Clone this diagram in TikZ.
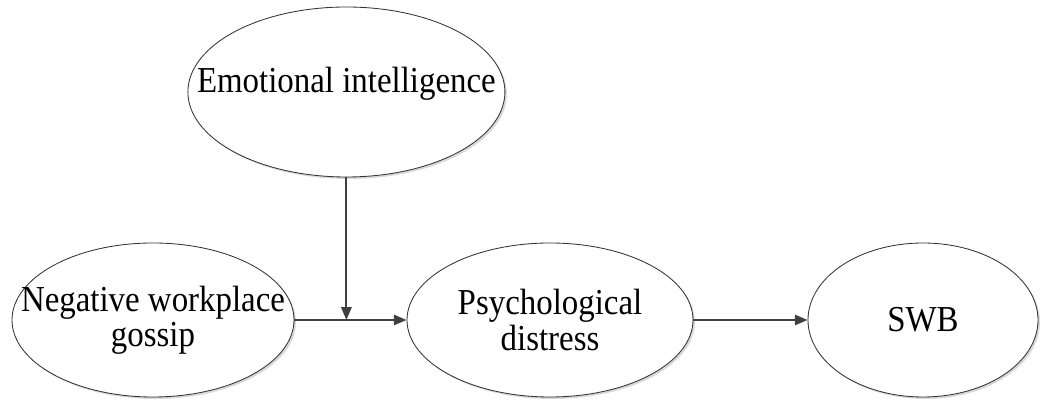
\documentclass[tikz,border=0pt]{standalone}
\usepackage{fontspec}
\setmainfont{Liberation Serif}[FakeStretch=0.9]
\usetikzlibrary{shapes.geometric,arrows.meta,shadows}

\definecolor{linegray}{HTML}{404040}

\begin{document}
\begin{tikzpicture}[
        construct/.style={ellipse, draw=black!80, line width=0.6pt, fill=white,
            inner sep=-3cm, align=center,
            font=\fontsize{26}{25}\selectfont,
            drop shadow={shadow xshift=0.05cm, shadow yshift=-0.05cm,
                fill=black!30, opacity=0.5}},
        path/.style={draw=linegray, line width=1.3pt,
            -{Triangle[length=0.32cm, width=0.26cm]}}
    ]
    % Рамка рисунка
    \useasboundingbox (0,0) rectangle (26,10.025);

    % Конструкты
    \node[construct, minimum width=7.925cm, minimum height=4.25cm,
        text height=0.2cm, text depth=0.15cm]
        (emoint) at (8.66,7.725) {Emotional intelligence};
    \node[construct, minimum width=7.05cm, minimum height=3.85cm]
        (gossip) at (3.825,2.025) {Negative workplace\\gossip};
    \node[construct, minimum width=7.15cm, minimum height=3.85cm]
        (distress) at (13.75,2.025) {Psychological\\distress};
    \node[construct, minimum width=5.75cm, minimum height=3.85cm]
        (swb) at (23.075,2.025) {SWB};

    % Точка модерации
    \coordinate (moder) at (emoint.south |- gossip.east);

    % Связи
    \draw[path] (gossip.east) -- (distress.west);
    \draw[path] (emoint.south) -- (moder);
    \draw[path] (distress.east) -- (swb.west);
\end{tikzpicture}
\end{document}
